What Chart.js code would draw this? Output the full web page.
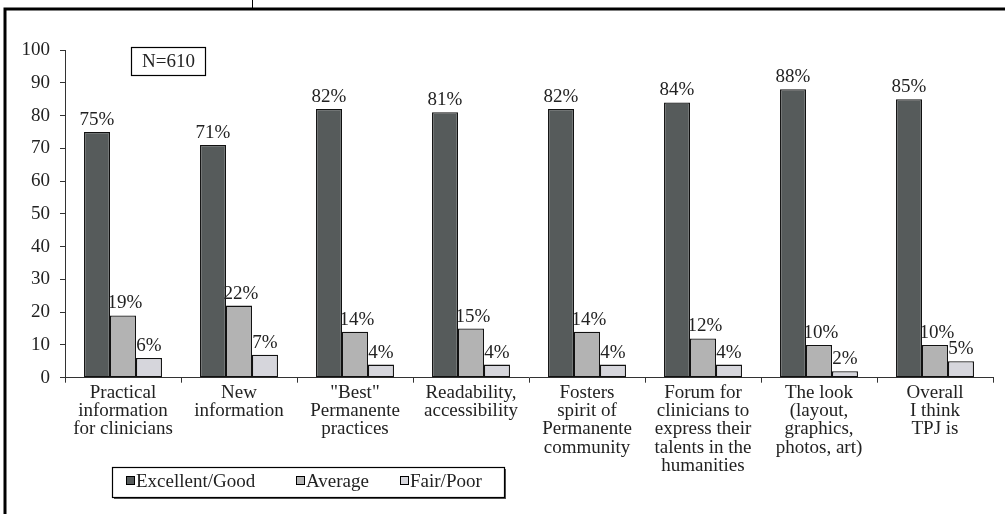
<!DOCTYPE html>
<html>
<head>
<meta charset="utf-8">
<script src="https://cdn.jsdelivr.net/npm/chart.js@4/dist/chart.umd.min.js"></script>
<style>
html,body{margin:0;padding:0;background:#fff;}
#wrap{width:1005px;height:514px;position:relative;}
</style>
</head>
<body>
<div id="wrap"><canvas id="c" width="1005" height="514"></canvas></div>
<script>
const categories = [
  ["Practical","information","for clinicians"],
  ["New","information"],
  ["\"Best\"","Permanente","practices"],
  ["Readability,","accessibility"],
  ["Fosters","spirit of","Permanente","community"],
  ["Forum for","clinicians to","express their","talents in the","humanities"],
  ["The look","(layout,","graphics,","photos, art)"],
  ["Overall","I think","TPJ is"]
];
const excellentGood = [75, 71, 82, 81, 82, 84, 88, 85];
const average = [19, 22, 14, 15, 14, 12, 10, 10];
const fairPoor = [6, 7, 4, 4, 4, 4, 2, 5];
const seriesNames = ["Excellent/Good", "Average", "Fair/Poor"];
const yTicks = [0,10,20,30,40,50,60,70,80,90,100];
const sampleNote = "N=610";

const FONT = "'Liberation Serif', 'Times New Roman', serif";
const TXT = '#222';
const colors = ['#565b5b', '#b3b3b3', '#d6d6dc'];

const framePlugin = {
  id: 'frame',
  afterDraw(chart) {
    const ctx = chart.ctx;
    ctx.save();
    ctx.strokeStyle = '#000';
    ctx.lineWidth = 3;
    ctx.beginPath();
    ctx.moveTo(3.5, 9); ctx.lineTo(1005, 9);
    ctx.moveTo(5, 8); ctx.lineTo(5, 514);
    ctx.stroke();
    ctx.lineWidth = 1;
    ctx.beginPath();
    ctx.moveTo(252.5, 0); ctx.lineTo(252.5, 8);
    ctx.stroke();

    // N box
    ctx.lineWidth = 1.2;
    ctx.strokeRect(131.5, 47.5, 74, 28);
    ctx.fillStyle = TXT;
    ctx.font = '19px ' + FONT;
    ctx.textAlign = 'center';
    ctx.textBaseline = 'middle';
    ctx.fillText(sampleNote, 168.5, 62);

    // value labels
    ctx.textBaseline = 'alphabetic';
    chart.data.datasets.forEach((ds, di) => {
      const meta = chart.getDatasetMeta(di);
      meta.data.forEach((bar, i) => {
        ctx.fillText(ds.data[i] + '%', bar.x + (di === 1 ? 2 : 0), bar.y - 7);
      });
    });

    // legend
    const lx = 112, ly = 467, lw = 392, lh = 30;
    ctx.fillStyle = '#555';
    ctx.fillRect(lx + 2, ly + lh, lw, 2);
    ctx.fillRect(lx + lw, ly + 2, 2, lh);
    ctx.fillStyle = '#fff';
    ctx.fillRect(lx, ly, lw, lh);
    ctx.lineWidth = 1.2;
    ctx.strokeStyle = '#000';
    ctx.strokeRect(lx + 0.5, ly + 0.5, lw, lh);
    const markerX = [126, 296, 400];
    ctx.textAlign = 'left';
    ctx.textBaseline = 'middle';
    ctx.font = '19px ' + FONT;
    seriesNames.forEach((name, k) => {
      ctx.fillStyle = colors[k];
      ctx.fillRect(markerX[k], 476, 9, 9);
      ctx.lineWidth = 1;
      ctx.strokeStyle = '#000';
      ctx.strokeRect(markerX[k] + 0.5, 476.5, 8, 8);
      ctx.fillStyle = TXT;
      ctx.fillText(name, markerX[k] + 10, 482);
    });
    ctx.restore();
  }
};

const mk = (label, data, k) => ({
  label, data,
  backgroundColor: colors[k],
  borderColor: '#111',
  borderWidth: 1.3,
  borderSkipped: false,
  categoryPercentage: 0.672,
  barPercentage: 1.0
});

new Chart(document.getElementById('c'), {
  type: 'bar',
  data: {
    labels: categories,
    datasets: [
      mk(seriesNames[0], excellentGood, 0),
      mk(seriesNames[1], average, 1),
      mk(seriesNames[2], fairPoor, 2)
    ]
  },
  options: {
    responsive: false,
    devicePixelRatio: 1,
    animation: false,
    layout: { padding: { top: 50, right: 12, left: 0, bottom: 0 } },
    plugins: { legend: { display: false }, tooltip: { enabled: false } },
    scales: {
      y: {
        min: 0, max: 100,
        afterFit(s) { s.width = 65; },
        afterBuildTicks(s) { s.ticks = yTicks.map(v => ({ value: v })); },
        grid: { display: true, drawOnChartArea: false, drawTicks: true, tickLength: 5, color: '#333' },
        border: { display: true, color: '#333', width: 1 },
        ticks: { font: { family: FONT, size: 19 }, color: TXT, padding: 10 }
      },
      x: {
        afterFit(s) { s.height = 136.3; },
        grid: { display: true, offset: true, drawOnChartArea: false, drawTicks: true, tickLength: 5, color: '#333' },
        border: { display: true, color: '#333', width: 1 },
        ticks: { font: { family: FONT, size: 19, lineHeight: 0.96 }, color: TXT, padding: 1, maxRotation: 0, autoSkip: false }
      }
    }
  },
  plugins: [framePlugin]
});
</script>
</body>
</html>
